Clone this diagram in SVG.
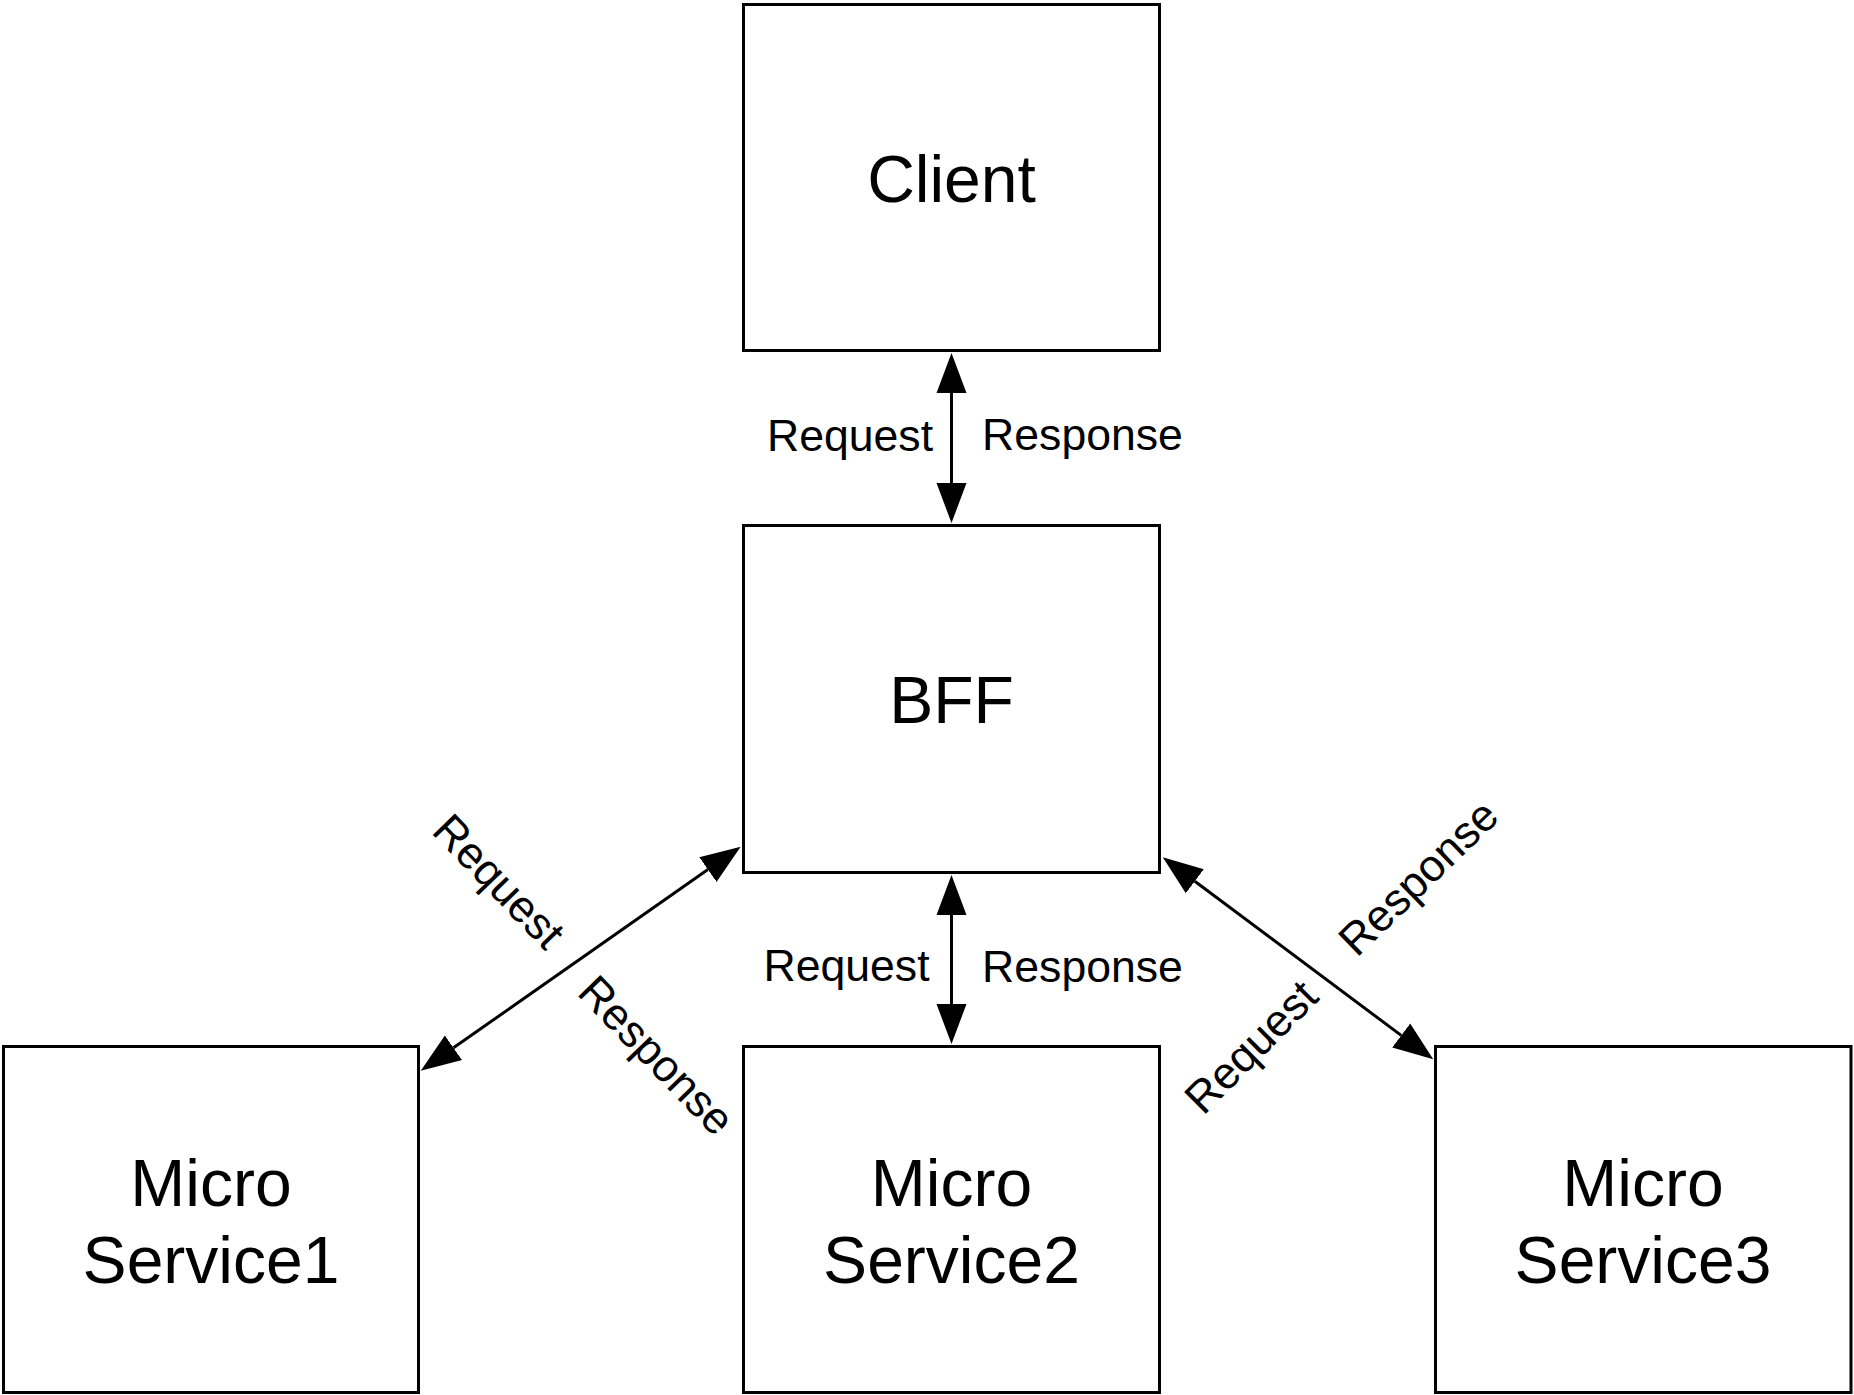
<svg xmlns="http://www.w3.org/2000/svg" width="1854" height="1395" viewBox="0 0 1854 1395">
<style>
.box{fill:#fff;stroke:#000;stroke-width:3}
.nt{font-family:"Liberation Sans",Arial,Helvetica,sans-serif;font-size:66px;fill:#000;text-anchor:middle}
.lt{font-family:"Liberation Sans",Arial,Helvetica,sans-serif;font-size:44.6px;fill:#000;text-anchor:middle}
.ln{fill:none;stroke:#000;stroke-width:3}
</style>
<defs>
<marker id="ah" markerUnits="userSpaceOnUse" markerWidth="42" markerHeight="32" viewBox="0 -16 42 32" refX="0" refY="0" orient="auto-start-reverse">
<path d="M0,-15 L40,0 L0,15 z" fill="#000"/>
</marker>
</defs>
<rect width="1854" height="1395" fill="#fff"/>
<g id="connectors">
<line class="ln" x1="951.5" y1="393" x2="951.5" y2="483" marker-start="url(#ah)" marker-end="url(#ah)"/>
<line class="ln" x1="951.5" y1="915" x2="951.5" y2="1004" marker-start="url(#ah)" marker-end="url(#ah)"/>
<line class="ln" x1="453.5" y1="1047.8" x2="707.9" y2="869.6" marker-start="url(#ah)" marker-end="url(#ah)"/>
<line class="ln" x1="1194.8" y1="881.2" x2="1401.2" y2="1035.4" marker-start="url(#ah)" marker-end="url(#ah)"/>
<text class="lt" x="850" y="451">Request</text>
<text class="lt" x="1082.5" y="450">Response</text>
<text class="lt" x="846.5" y="981">Request</text>
<text class="lt" x="1082.5" y="982">Response</text>
<text class="lt" transform="translate(488,892) rotate(46)">Request</text>
<text class="lt" transform="translate(645.4,1065.9) rotate(46)">Response</text>
<text class="lt" transform="translate(1428.9,888.6) rotate(-44)">Response</text>
<text class="lt" transform="translate(1261.9,1057.6) rotate(-45)">Request</text>
</g>
<g id="client">
<rect class="box" x="743.5" y="4.5" width="416" height="346"/>
<text class="nt" x="951.5" y="202">Client</text>
</g>
<g id="bff">
<rect class="box" x="743.5" y="525.5" width="416" height="347"/>
<text class="nt" x="951.5" y="723">BFF</text>
</g>
<g id="ms1">
<rect class="box" x="3.5" y="1046.5" width="415" height="346"/>
<text class="nt" x="211" y="1206">Micro</text>
<text class="nt" x="211" y="1283">Service1</text>
</g>
<g id="ms2">
<rect class="box" x="743.5" y="1046.5" width="416" height="346"/>
<text class="nt" x="951.5" y="1206">Micro</text>
<text class="nt" x="951.5" y="1283">Service2</text>
</g>
<g id="ms3">
<rect class="box" x="1435.5" y="1046.5" width="415.5" height="346"/>
<text class="nt" x="1643" y="1206">Micro</text>
<text class="nt" x="1643" y="1283">Service3</text>
</g>
</svg>
